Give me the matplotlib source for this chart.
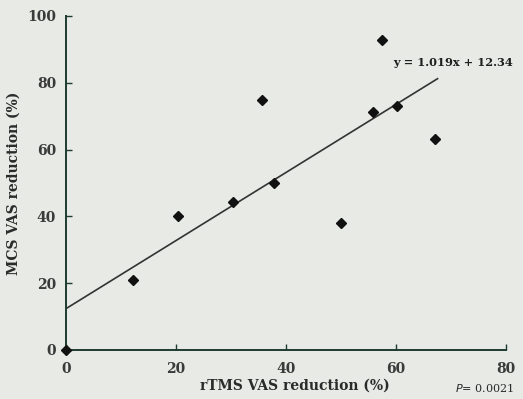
import numpy as np
import matplotlib.pyplot as plt

# data
rtms = [0, 12.2, 20.3, 30.4, 35.6, 37.9, 50.1, 55.9, 57.5, 60.3, 67.1]
mcs = [0, 21.0, 40.1, 44.3, 74.9, 50.0, 38.1, 71.3, 92.8, 73.1, 63.2]
slope = 1.019
intercept = 12.34
x_fit = [0, 67.6]

bg = '#e7eae5'
axcol = '#1f3b30'

fig = plt.figure(figsize=(5.23, 3.99), dpi=100, facecolor=bg)
ax = fig.add_axes([0.126, 0.123, 0.841, 0.837], facecolor=bg)

xf = np.array(x_fit)
ax.plot(xf, slope*xf + intercept, color='#333333', lw=1.2)
ax.plot(rtms, mcs, 'D', color='#111111', ms=5.5, clip_on=False, zorder=5)

ax.set_xlim(0, 80)
ax.set_ylim(0, 100)
ax.set_xticks([0, 20, 40, 60, 80])
ax.set_yticks([0, 20, 40, 60, 80, 100])
for s in ['top', 'right']:
    ax.spines[s].set_visible(False)
for s in ['left', 'bottom']:
    ax.spines[s].set_color(axcol)
    ax.spines[s].set_linewidth(1.4)
ax.tick_params(direction='in', length=4, width=1, color=axcol, labelsize=10)
ax.tick_params(axis='x', pad=9)
ax.tick_params(axis='y', pad=7)
for lab in ax.get_xticklabels() + ax.get_yticklabels():
    lab.set_family('DejaVu Serif')
    lab.set_fontweight('bold')
    lab.set_color('#3a3a3a')

ax.set_xlabel('rTMS VAS reduction (%)', family='DejaVu Serif', fontweight='bold',
              fontsize=10, labelpad=3, color='#2a2a2a')
ax.xaxis.set_label_coords(0.52, -0.085)
ax.set_ylabel('MCS VAS reduction (%)', family='DejaVu Serif', fontweight='bold',
              fontsize=10, labelpad=5, color='#2a2a2a')
ax.text(59.6, 86, 'y = 1.019x + 12.34', family='DejaVu Serif', fontsize=8.2,
        fontweight='bold', va='center', ha='left', color='#1e1e1e')
fig.text(0.927, 0.012, '$P$= 0.0021', family='DejaVu Serif', fontsize=8,
         ha='center', va='bottom', color='#2a2a2a')

fig.savefig('out.png', dpi=100, facecolor=bg)
